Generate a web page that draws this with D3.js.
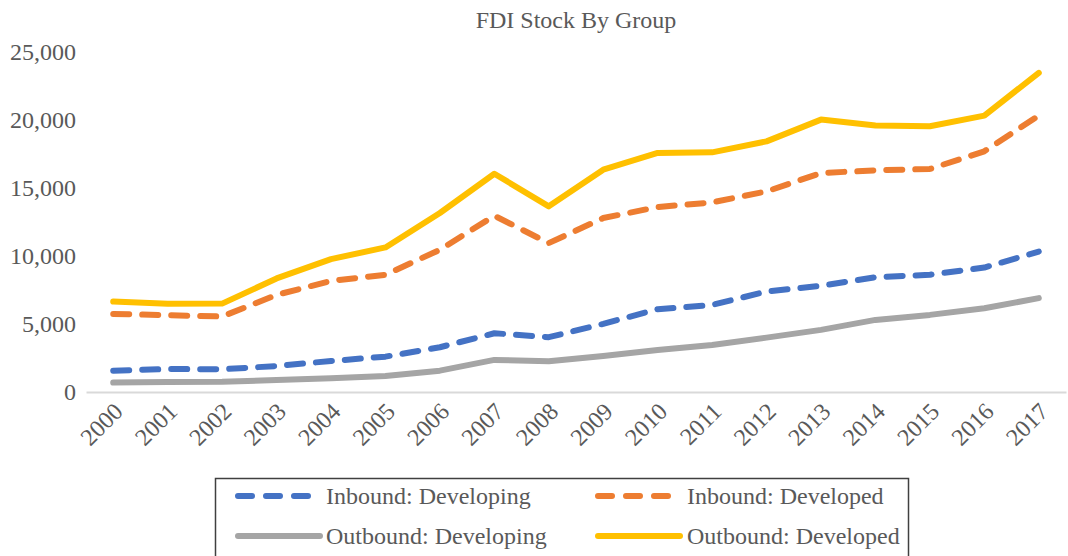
<!DOCTYPE html>
<html>
<head>
<meta charset="utf-8">
<script src="https://cdn.jsdelivr.net/npm/d3@7"></script>
<style>
  body { margin: 0; background: #fff; }
  svg { display: block; font-family: "Liberation Serif", "Times New Roman", serif; }
</style>
</head>
<body>
<svg id="chart" width="1068" height="556"></svg>
<script>
const years = ["2000", "2001", "2002", "2003", "2004", "2005", "2006", "2007", "2008",
  "2009", "2010", "2011", "2012", "2013", "2014", "2015", "2016", "2017"];

const inboundDeveloping = [1570, 1690, 1670, 1910, 2280, 2600, 3290, 4320, 4030,
  5010, 6090, 6400, 7390, 7810, 8440, 8620, 9150, 10330];
const inboundDeveloped = [5740, 5650, 5550, 7140, 8170, 8620, 10460, 12960, 10950,
  12790, 13600, 13940, 14750, 16100, 16300, 16400, 17700, 20320];
const outboundDeveloping = [690, 740, 760, 880, 1010, 1180, 1570, 2360, 2260,
  2650, 3090, 3460, 4000, 4570, 5300, 5670, 6160, 6900];
const outboundDeveloped = [6650, 6480, 6500, 8350, 9770, 10630, 13160, 16050, 13650,
  16350, 17580, 17620, 18430, 20030, 19590, 19540, 20320, 23470];

const yTicks = [0, 5000, 10000, 15000, 20000, 25000];

const series = [
  { name: "Inbound: Developing", values: inboundDeveloping, color: "#4472C4", dashed: true },
  { name: "Inbound: Developed", values: inboundDeveloped, color: "#ED7D31", dashed: true },
  { name: "Outbound: Developing", values: outboundDeveloping, color: "#A5A5A5", dashed: false },
  { name: "Outbound: Developed", values: outboundDeveloped, color: "#FFC000", dashed: false }
];

const margin = { top: 52, right: 2, bottom: 164, left: 86 };
const width = 1068, height = 556;
const dash = "16,13";

const svg = d3.select("#chart");

const x = d3.scaleBand()
  .domain(years)
  .range([margin.left, width - margin.right]);

const y = d3.scaleLinear()
  .domain([0, 25000])
  .range([height - margin.bottom, margin.top]);

// title
svg.append("text")
  .attr("x", 576)
  .attr("y", 28)
  .attr("text-anchor", "middle")
  .attr("fill", "#595959")
  .style("font-size", "24px")
  .text("FDI Stock By Group");

// y axis labels only
const yAxis = g => {
  g.attr("transform", `translate(${margin.left - 10},0)`)
    .call(d3.axisLeft(y).tickValues(yTicks).tickSize(0).tickFormat(d3.format(",")))
    .call(g => g.select(".domain").remove());
  g.selectAll("text")
    .attr("fill", "#595959")
    .attr("x", 0)
    .style("font-size", "24px")
    .style("font-family", "Liberation Serif, Times New Roman, serif");
};
svg.append("g").call(yAxis);

// x axis
const xAxis = g => {
  g.attr("transform", `translate(0,${y(0)})`)
    .call(d3.axisBottom(x).tickSize(0).tickSizeOuter(0));
  g.select(".domain")
    .attr("stroke", "#D9D9D9")
    .attr("stroke-width", 2);
  g.selectAll("text")
    .attr("fill", "#595959")
    .attr("text-anchor", "end")
    .attr("dy", "0.35em")
    .attr("transform", "translate(5,15) rotate(-45)")
    .attr("y", 0)
    .attr("x", 0)
    .style("font-size", "24px")
    .style("font-family", "Liberation Serif, Times New Roman, serif");
};
svg.append("g").call(xAxis);

const line = d3.line()
  .x((d, i) => x(years[i]) + x.bandwidth() / 2)
  .y(d => y(d));

// draw back to front like the reference
const drawOrder = [2, 0, 1, 3];
svg.append("g")
  .selectAll("path")
  .data(drawOrder.map(i => series[i]))
  .enter().append("path")
    .attr("d", d => line(d.values))
    .attr("fill", "none")
    .attr("stroke", d => d.color)
    .attr("stroke-width", 6)
    .attr("stroke-linejoin", "round")
    .attr("stroke-linecap", "round")
    .attr("stroke-dasharray", d => d.dashed ? dash : null);

// legend
const legend = svg.append("g");
legend.append("rect")
  .attr("x", 215.5)
  .attr("y", 478.5)
  .attr("width", 693)
  .attr("height", 100)
  .attr("fill", "#fff")
  .attr("stroke", "#404040")
  .attr("stroke-width", 1.5);

const legendPos = [
  { lx: 238, tx: 326, y: 496 },
  { lx: 598, tx: 687, y: 496 },
  { lx: 238, tx: 326, y: 536 },
  { lx: 598, tx: 687, y: 536 }
];

const items = legend.selectAll("g.item")
  .data(series)
  .enter().append("g")
    .attr("class", "item");

items.append("line")
  .attr("x1", (d, i) => legendPos[i].lx)
  .attr("x2", (d, i) => legendPos[i].lx + (d.dashed ? 76 : 82))
  .attr("y1", (d, i) => legendPos[i].y)
  .attr("y2", (d, i) => legendPos[i].y)
  .attr("stroke", d => d.color)
  .attr("stroke-width", 6)
  .attr("stroke-linecap", "round")
  .attr("stroke-dasharray", d => d.dashed ? "14,14" : null);

items.append("text")
  .attr("x", (d, i) => legendPos[i].tx)
  .attr("y", (d, i) => legendPos[i].y)
  .attr("dy", "0.35em")
  .attr("fill", "#595959")
  .style("font-size", "24px")
  .text(d => d.name);
</script>
</body>
</html>
